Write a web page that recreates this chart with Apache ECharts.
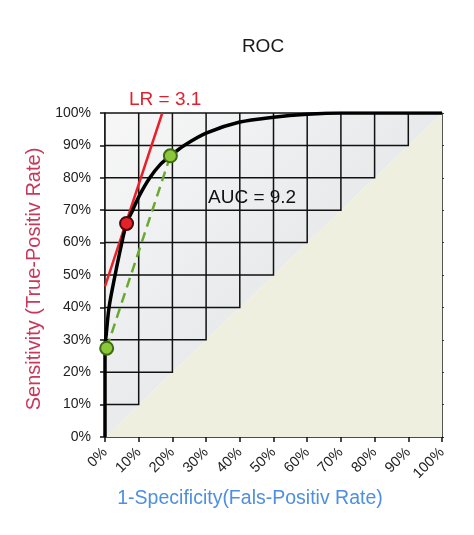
<!DOCTYPE html>
<html>
<head>
<meta charset="utf-8">
<script src="https://cdn.jsdelivr.net/npm/echarts@6/dist/echarts.min.js"></script>
<style>
html,body{margin:0;padding:0;background:#fff;}
#chart{width:474px;height:535px;}
</style>
</head>
<body>
<div id="chart"></div>
<script>
// ---- data ----
const ticks = [0, 10, 20, 30, 40, 50, 60, 70, 80, 90, 100];
const rocCurve = [[0,0],[0,27.4],[0.4,32],[1.2,40],[3.0,50],[5.0,60],[6.4,65.9],[8.2,70],[10.2,74.5],[13.3,80],[16.3,84],[19.4,86.8],[23.5,90],[30,93.8],[40,97.2],[50,98.7],[60,99.6],[70,100],[100,100]];
const lrTangent = [[0,46.5],[17,100]];
const chordLine = [[0.5,27.4],[19.4,86.8]];
const redPoint = [[6.4,65.9]];
const greenPoints = [[0.5,27.4],[19.4,86.8]];
const upperRegion = [[0,0],[0,100],[100,100]];
const lowerRegion = [[0,0],[100,0],[100,100]];
const titleText = 'ROC';
const xName = '1-Specificity(Fals-Positiv Rate)';
const yName = 'Sensitivity (True-Positiv Rate)';
const lrText = 'LR = 3.1';
const aucText = 'AUC = 9.2';

const FONT = 'Liberation Sans, Arial, sans-serif';
const chart = echarts.init(document.getElementById('chart'));

function polyFromRegion(api, region) {
  return region.map(p => api.coord(p));
}

chart.setOption({
  animation: false,
  backgroundColor: '#ffffff',
  title: {
    text: titleText, left: 263, top: 37, textAlign: 'center', padding: 0,
    textStyle: { fontFamily: FONT, fontSize: 19, fontWeight: 'normal', color: '#1a1a1a' }
  },
  grid: { left: 105, right: 32, top: 113, bottom: 98, containLabel: false },
  xAxis: {
    type: 'value', min: 0, max: 100, interval: 10,
    name: xName, nameLocation: 'middle', nameGap: 52,
    nameTextStyle: { fontFamily: FONT, fontSize: 19.5, color: '#4d8fe0', padding: [0, 47, 0, 0] },
    axisLine: { show: true, lineStyle: { color: '#111', width: 1.5 } },
    axisTick: { show: true, length: 5, lineStyle: { color: '#111', width: 1.5 } },
    axisLabel: { formatter: '{value}%', rotate: 45, margin: 13, fontFamily: FONT, fontSize: 14.5, color: '#222' },
    splitLine: { show: false }
  },
  yAxis: [{
    type: 'value', min: 0, max: 100, interval: 10,
    name: yName, nameLocation: 'middle', nameGap: 52, nameRotate: 90,
    nameTextStyle: { fontFamily: FONT, fontSize: 20, color: '#c8385a', padding: [0, 0, 0, -8] },
    axisLine: { show: true, lineStyle: { color: '#111', width: 1.5 } },
    axisTick: { show: true, length: 5, lineStyle: { color: '#111', width: 1.5 } },
    axisLabel: { formatter: '{value}%', margin: 14, fontFamily: FONT, fontSize: 14, color: '#222' },
    splitLine: { show: false }
  }, {
    type: 'value', min: 0, max: 100, interval: 10, position: 'right',
    axisLine: { show: true, lineStyle: { color: '#555', width: 1 } },
    axisTick: { show: true, length: 2, inside: false, lineStyle: { color: '#333', width: 1 } },
    axisLabel: { show: false },
    splitLine: { show: false }
  }],
  graphic: [
    { type: 'text', left: 129, top: 90, style: { text: lrText, fontFamily: FONT, fontSize: 19, fill: '#e0202e' }, z: 100 },
    { type: 'text', left: 208, top: 188, style: { text: aucText, fontFamily: FONT, fontSize: 19, fill: '#111' }, z: 100 }
  ],
  series: [
    {
      type: 'custom', silent: true, z: 1,
      data: [[0]],
      renderItem: function (params, api) {
        return {
          type: 'group',
          children: [
            { type: 'polygon', shape: { points: polyFromRegion(api, upperRegion) },
              style: { fill: new echarts.graphic.LinearGradient(0, 0, 1, 1, [
                { offset: 0, color: '#f7f7f7' }, { offset: 0.5, color: '#e8eaec' }, { offset: 1, color: '#d4d8dc' }
              ]), stroke: null } },
            { type: 'polygon', shape: { points: polyFromRegion(api, lowerRegion) },
              style: { fill: '#efefe0', stroke: null } }
          ]
        };
      }
    },
    {
      type: 'custom', silent: true, z: 2,
      data: ticks.map(k => [k]),
      renderItem: function (params, api) {
        const k = api.value(0);
        return {
          type: 'polyline',
          shape: { points: [api.coord([0, k]), api.coord([k, k]), api.coord([k, 100])] },
          style: { stroke: '#111', lineWidth: 1.5, fill: null }
        };
      }
    },
    {
      type: 'line', data: rocCurve, smooth: 0.3, showSymbol: false, z: 5,
      lineStyle: { color: '#000', width: 3.5 }
    },
    {
      type: 'line', data: lrTangent, showSymbol: false, z: 4,
      lineStyle: { color: '#e8202a', width: 2.5 }
    },
    {
      type: 'line', data: chordLine, showSymbol: false, z: 4,
      lineStyle: { color: '#6aa832', width: 2.5, type: [10, 6] }
    },
    {
      type: 'scatter', data: redPoint, symbolSize: 13, z: 10,
      itemStyle: { color: '#e3222a', borderColor: '#4a0a0a', borderWidth: 2, opacity: 1 }
    },
    {
      type: 'scatter', data: greenPoints, symbolSize: 13, z: 10,
      itemStyle: { color: '#8cc63a', borderColor: '#3d6b14', borderWidth: 2, opacity: 1 }
    }
  ]
});
</script>
</body>
</html>
